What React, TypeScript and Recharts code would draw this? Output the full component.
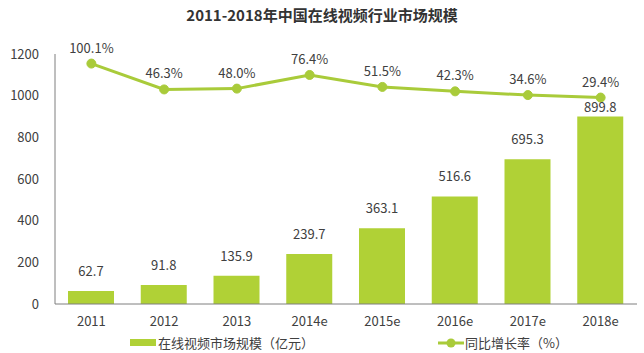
import React from 'react';
import { ComposedChart, Bar, Line, XAxis, YAxis, LabelList } from 'recharts';

const years = ['2011', '2012', '2013', '2014e', '2015e', '2016e', '2017e', '2018e'];
const marketSize = [62.7, 91.8, 135.9, 239.7, 363.1, 516.6, 695.3, 899.8];
const growthRate = [100.1, 46.3, 48.0, 76.4, 51.5, 42.3, 34.6, 29.4];
const leftTicks = [0, 200, 400, 600, 800, 1000, 1200];

const data = years.map((y, i) => ({ year: y, size: marketSize[i], rate: growthRate[i] }));

const FONT = '"Noto Sans CJK SC", "Noto Sans", sans-serif';
const TEXT = '#404040';
const BAR = '#B0D136';
const LINE = '#A9CB3A';

const BarLabel = (props: any) => {
  const { x, y, width, value, index } = props;
  const off = index === years.length - 1 ? 5 : 15;
  return (
    <text x={x + width / 2} y={y - off} textAnchor="middle" fill={TEXT} fontSize={13} fontFamily={FONT}>
      {value}
    </text>
  );
};

const LineLabel = (props: any) => {
  const { x, y, value } = props;
  return (
    <text x={x} y={y - 11} textAnchor="middle" fill={TEXT} fontSize={13} fontFamily={FONT}>
      {Number(value).toFixed(1)}%
    </text>
  );
};

export default function App() {
  return (
    <div style={{ position: 'absolute', left: 0, top: 0, width: 644, height: 353, background: '#fff', fontFamily: FONT }}>
      <div style={{ position: 'absolute', left: 0, top: 4, width: 644, textAlign: 'center', fontSize: 15, fontWeight: 'bold', color: '#333', lineHeight: '22px' }}>
        2011-2018年中国在线视频行业市场规模
      </div>
      <ComposedChart width={644} height={353} data={data} margin={{ top: 54, right: 7, left: 0, bottom: 19 }} barSize={46}>
        <XAxis
          dataKey="year"
          axisLine={{ stroke: '#7f7f7f' }}
          tickLine={false}
          tickSize={0}
          tickMargin={13}
          height={30}
          tick={{ fill: TEXT, fontSize: 13, fontFamily: FONT }}
        />
        <YAxis
          yAxisId="left"
          domain={[0, 1200]}
          ticks={leftTicks}
          width={55}
          axisLine={{ stroke: '#7f7f7f' }}
          tickLine={false}
          tickSize={0}
          tickMargin={16}
          tick={{ fill: TEXT, fontSize: 13, fontFamily: FONT }}
        />
        <YAxis yAxisId="right" orientation="right" domain={[-400, 120]} hide />
        <Bar yAxisId="left" dataKey="size" fill={BAR} isAnimationActive={false}>
          <LabelList dataKey="size" content={BarLabel} />
        </Bar>
        <Line
          yAxisId="right"
          dataKey="rate"
          stroke={LINE}
          strokeWidth={3}
          dot={{ r: 4.5, fill: LINE, stroke: LINE, strokeWidth: 1 }}
          isAnimationActive={false}
        >
          <LabelList dataKey="rate" content={LineLabel} />
        </Line>
      </ComposedChart>
      <div style={{ position: 'absolute', left: 130, top: 333, display: 'flex', alignItems: 'center', fontSize: 13, color: TEXT }}>
        <span style={{ display: 'inline-block', width: 26, height: 7, background: BAR, marginRight: 2 }} />
        <span>在线视频市场规模（亿元）</span>
      </div>
      <div style={{ position: 'absolute', left: 438, top: 333, display: 'flex', alignItems: 'center', fontSize: 13, color: TEXT }}>
        <svg width={26} height={12} style={{ marginRight: 1 }}>
          <line x1={0} y1={6} x2={26} y2={6} stroke={LINE} strokeWidth={3} />
          <circle cx={13} cy={6} r={4.5} fill={LINE} />
        </svg>
        <span>同比增长率（%）</span>
      </div>
    </div>
  );
}
